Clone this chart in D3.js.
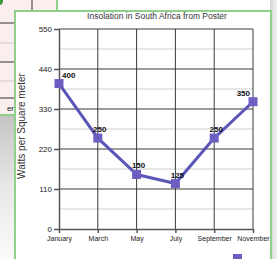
<!DOCTYPE html>
<html>
  <head>
    <script src="https://d3js.org/d3.v7.min.js"></script>
    <style>
      body { margin: 0; background: #fff; }
      svg { display: block; font-family: "Liberation Sans", Arial, sans-serif; }
    </style>
  </head>
  <body>
    <svg id="chart" width="277" height="259"></svg>
    <script>
      // chart data
      const months = ["January", "March", "May", "July", "September", "November"];
      const values = [400, 250, 150, 125, 250, 350];
      const yTicks = [0, 110, 220, 330, 440, 550];
      const minorTicks = [55, 165, 275, 385, 495];
      const title = "Insolation in South Africa from Poster";
      const yLabel = "Watts per Square meter";

      const svg = d3.select("#chart");
      const defs = svg.append("defs");

      // background behind the chart panel
      const gRight = defs.append("linearGradient").attr("id", "gRight");
      gRight.append("stop").attr("offset", "0").attr("stop-color", "#d6d6d6");
      gRight.append("stop").attr("offset", "1").attr("stop-color", "#f0f0f0");
      const gDown = defs.append("linearGradient").attr("id", "gDown")
        .attr("x1", 0).attr("y1", 0).attr("x2", 0).attr("y2", 1);
      gDown.append("stop").attr("offset", "0").attr("stop-color", "#c4c4c4");
      gDown.append("stop").attr("offset", "0.5").attr("stop-color", "#e8e8e8");
      gDown.append("stop").attr("offset", "1").attr("stop-color", "#fafafa");

      svg.append("rect").attr("x", 270).attr("y", 0).attr("width", 7).attr("height", 259)
        .attr("fill", "url(#gRight)");
      svg.append("rect").attr("x", 0).attr("y", 116).attr("width", 16).attr("height", 143)
        .attr("fill", "url(#gDown)");

      // the spreadsheet panel peeking out at top left
      svg.append("rect").attr("x", -2).attr("y", -2).attr("width", 59).attr("height", 117)
        .attr("fill", "#fbeeee").attr("stroke", "#8fd08a").attr("stroke-width", 2);
      [23, 62, 98].forEach((yy) => {
        svg.append("line").attr("x1", 0).attr("x2", 14).attr("y1", yy).attr("y2", yy)
          .attr("stroke", "#333").attr("stroke-width", 1);
      });
      [43, 81].forEach((yy) => {
        svg.append("line").attr("x1", 0).attr("x2", 14).attr("y1", yy).attr("y2", yy)
          .attr("stroke", "#d9c8c8").attr("stroke-width", 1);
      });
      svg.append("line").attr("x1", 32).attr("x2", 32).attr("y1", 0).attr("y2", 10)
        .attr("stroke", "#333").attr("stroke-width", 1);
      svg.append("text").attr("x", 14).attr("y", 111).attr("text-anchor", "end")
        .attr("font-size", 8).attr("fill", "#222").text("er");
      svg.append("circle").attr("cx", -1).attr("cy", 1).attr("r", 4).attr("fill", "#3a9a3a");

      // white chart panel
      svg.append("rect").attr("x", 15).attr("y", 11).attr("width", 256).attr("height", 260)
        .attr("fill", "#fff").attr("stroke", "#8fd08a").attr("stroke-width", 2);

      const x = d3.scalePoint().domain(months).range([59, 253]);
      const y = d3.scaleLinear().domain([0, 550]).range([229, 29]);

      // grid
      svg.append("g").selectAll("line").data(minorTicks).enter().append("line")
        .attr("x1", 59).attr("x2", 253)
        .attr("y1", (d) => y(d)).attr("y2", (d) => y(d))
        .attr("stroke", "#cfcfcf").attr("stroke-width", 1);
      svg.append("g").selectAll("line").data(yTicks.slice(1)).enter().append("line")
        .attr("x1", 59).attr("x2", 253)
        .attr("y1", (d) => y(d)).attr("y2", (d) => y(d))
        .attr("stroke", "#3a3a3a").attr("stroke-width", 1);
      svg.append("g").selectAll("line").data(months.slice(1)).enter().append("line")
        .attr("x1", (d) => x(d)).attr("x2", (d) => x(d))
        .attr("y1", y(550)).attr("y2", y(0))
        .attr("stroke", "#3a3a3a").attr("stroke-width", 1);

      // axes
      const yAxis = svg.append("g").attr("transform", "translate(59,0)")
        .call(d3.axisLeft(y).tickValues(yTicks).tickSize(5).tickPadding(2).tickSizeOuter(0));
      yAxis.selectAll("text").attr("font-size", 8).attr("fill", "#222")
        .attr("font-family", "Liberation Sans, Arial, sans-serif");
      yAxis.selectAll("line, path").attr("stroke", "#555").attr("stroke-width", 1.5);

      const xAxis = svg.append("g").attr("transform", "translate(0,229)")
        .call(d3.axisBottom(x).tickSize(4).tickPadding(3).tickSizeOuter(0));
      xAxis.selectAll("text").attr("font-size", 7).attr("fill", "#222")
        .attr("font-family", "Liberation Sans, Arial, sans-serif");
      xAxis.selectAll("line, path").attr("stroke", "#555").attr("stroke-width", 1.5);

      // series
      const pts = months.map((m, i) => ({ m: m, v: values[i], i: i }));
      svg.append("path").datum(pts)
        .attr("fill", "none").attr("stroke", "#5a56b8").attr("stroke-width", 3)
        .attr("stroke-linejoin", "round")
        .attr("d", d3.line().x((d) => x(d.m)).y((d) => y(d.v)));

      svg.append("g").selectAll("rect").data(pts).enter().append("rect")
        .attr("x", (d) => x(d.m) - 4.5).attr("y", (d) => y(d.v) - 4.5)
        .attr("width", 9).attr("height", 9).attr("fill", "#6d5fc2");

      svg.append("g").selectAll("text").data(pts).enter().append("text")
        .attr("x", (d) => x(d.m) + (d.i === 0 ? 3 : d.i === pts.length - 1 ? -3 : 2))
        .attr("y", (d) => y(d.v) - 6)
        .attr("text-anchor", (d) => (d.i === 0 ? "start" : d.i === pts.length - 1 ? "end" : "middle"))
        .attr("font-size", 8).attr("font-weight", "bold").attr("fill", "#111")
        .text((d) => d.v);

      // legend marker, cut off by the bottom edge
      svg.append("rect").attr("x", 233).attr("y", 254).attr("width", 9).attr("height", 9)
        .attr("fill", "#6d5fc2");

      // titles
      svg.append("text").attr("x", 157).attr("y", 19).attr("text-anchor", "middle")
        .attr("font-size", 8.5).attr("fill", "#333").text(title);
      svg.append("text").attr("transform", "translate(25,126) rotate(-90)")
        .attr("text-anchor", "middle").attr("font-size", 10).attr("fill", "#333")
        .text(yLabel);
    </script>
  </body>
</html>
